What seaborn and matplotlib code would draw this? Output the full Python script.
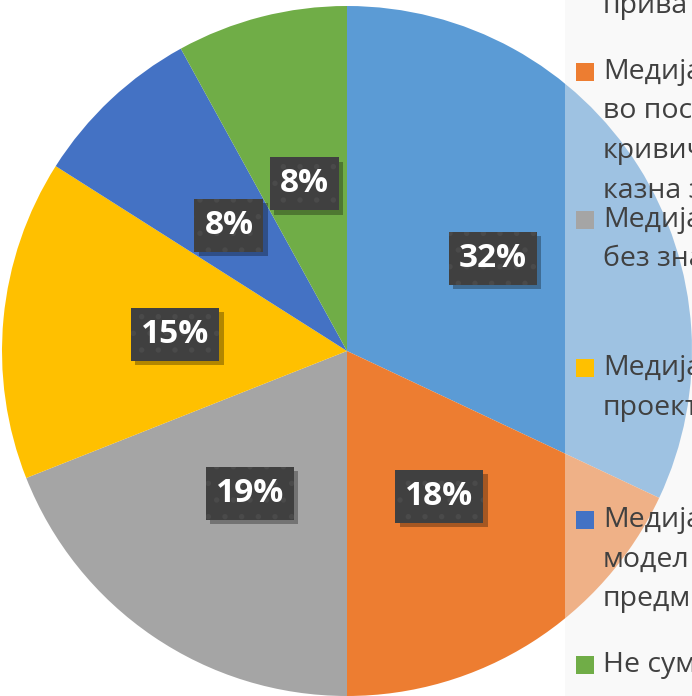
import matplotlib
matplotlib.use("Agg")
import matplotlib.pyplot as plt
import matplotlib.patheffects as pe
from matplotlib.patches import Rectangle
import seaborn as sns

sns.set_theme(style="white")
plt.rcParams['font.family'] = ['Open Sans', 'DejaVu Sans']
plt.rcParams['hatch.linewidth'] = 1.5

# --- Data ---
shares = [32, 18, 19, 15, 8, 8]
colors = ['#5B9BD5', '#ED7D31', '#A5A5A5', '#FFC000', '#4472C4', '#70AD47']
# visible (clipped) legend text, one list of lines per slice
legend_lines = [
    ['приват'],
    ['Медија', 'во пост', 'кривич', 'казна з'],
    ['Медија', 'без зна'],
    ['Медија', 'проект'],
    ['Медија', 'модел', 'предм'],
    ['Не сум'],
]

# --- Layout (pixels) ---
W, H = 692, 696
cx, cy, rad = 347, 351, 345
legend_first_y = [6, 72, 220, 368, 520, 665]   # centre of first line of each entry
line_step = 39.5
box_left = 565


# plain drop shadow (no dot pattern in the shadow itself)
class PlainShadow(pe.SimplePatchShadow):
    def draw_path(self, renderer, gc, tpath, affine, rgbFace):
        gc0 = renderer.new_gc()
        gc0.copy_properties(gc)
        gc0.set_hatch(None)
        super().draw_path(renderer, gc0, tpath, affine, rgbFace)
        gc0.restore()


fig = plt.figure(figsize=(W / 100, H / 100), dpi=100)
ax = fig.add_axes([0, 0, 1, 1])

wedges, texts, autotexts = ax.pie(
    shares, colors=colors, startangle=90, counterclock=False,
    center=(cx, H - cy), radius=rad, autopct='%1.0f%%', pctdistance=0.5,
    wedgeprops=dict(linewidth=0),
    textprops=dict(color='white', fontsize=24, fontweight='bold'))

for t in autotexts:
    t.set_bbox(dict(boxstyle='square,pad=0.3', fc='#404040', ec='#4a4a4a',
                    lw=0, hatch='.'))
    t.get_bbox_patch().set_path_effects(
        [PlainShadow(offset=(3, -3), shadow_rgbFace='black', alpha=0.3), pe.Normal()])
    t.set_zorder(5)

ax.set_xlim(0, W)
ax.set_ylim(0, H)
ax.set_aspect('auto')
ax.axis('off')

# semi-transparent legend panel laid over the pie
ax.add_patch(Rectangle((box_left, -10), W - box_left + 20, H + 20,
                       fc='#F2F2F2', alpha=0.45, lw=0, zorder=6))

for lines, col, y0 in zip(legend_lines, colors, legend_first_y):
    if len(lines) > 1 or lines[0] != 'приват':
        ax.add_patch(Rectangle((576, H - y0 - 9), 18, 18, fc=col, lw=0, zorder=7))
    for i, s in enumerate(lines):
        ax.text(603, H - (y0 + i * line_step), s, fontsize=20.5, color='#404040',
                va='center', ha='left', zorder=8)

fig.savefig('out.png', dpi=100)
